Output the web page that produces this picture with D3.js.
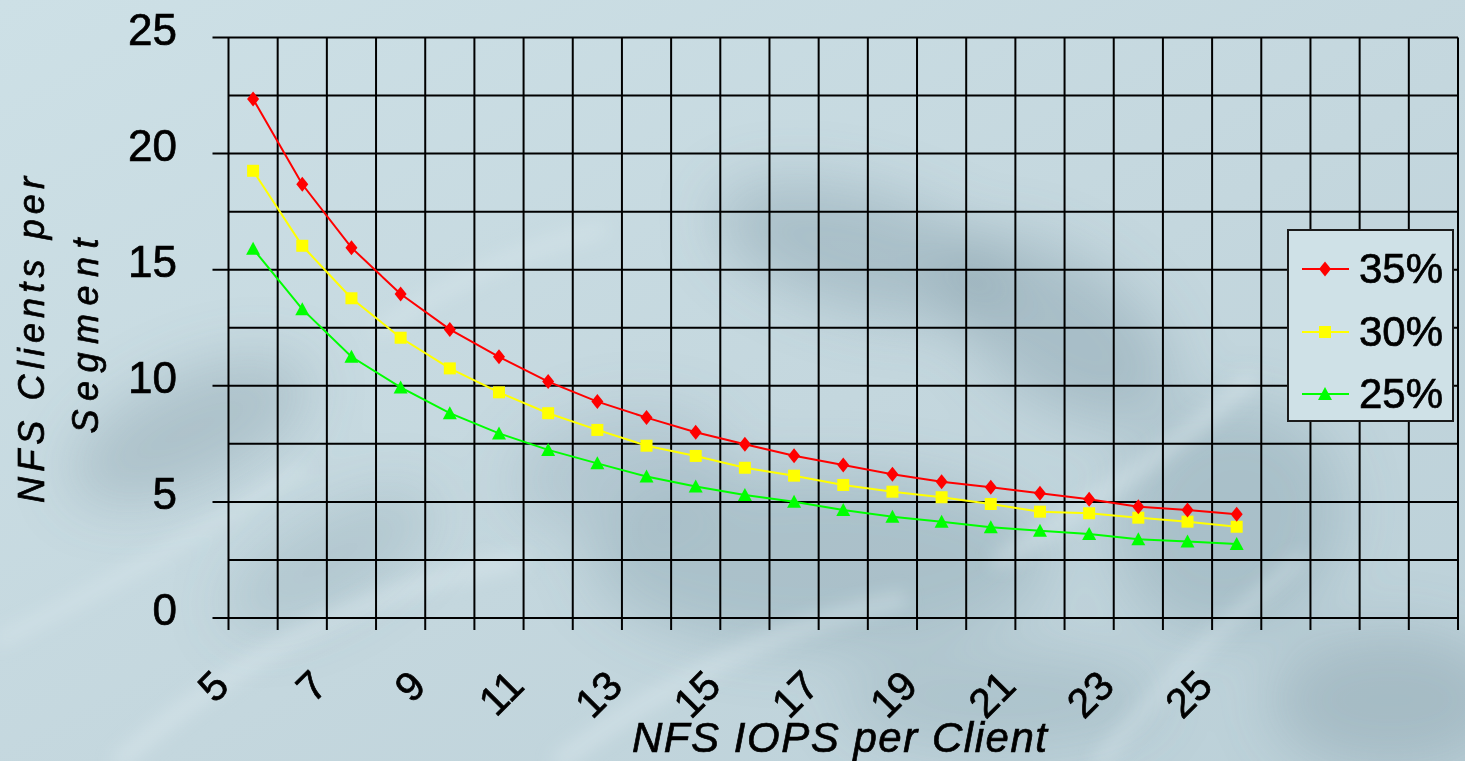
<!DOCTYPE html>
<html>
<head>
<meta charset="utf-8">
<script src="https://cdn.jsdelivr.net/npm/d3@7"></script>
<style>
  html, body { margin: 0; padding: 0; overflow: hidden; background: #c9dce2; }
  svg { display: block; }
</style>
</head>
<body>
<svg id="chart" width="1465" height="761"></svg>
<script>
// NFS IOPS per client (category values along the x axis)
const iops = [5, 6, 7, 8, 9, 10, 11, 12, 13, 14, 15, 16, 17, 18, 19, 20, 21, 22, 23, 24, 25];

// NFS clients per segment at 35%, 30% and 25% segment utilisation
const clients35 = [22.35, 18.68, 15.95, 13.95, 12.43, 11.25, 10.18, 9.32, 8.63, 8.00, 7.48,
                   6.99, 6.59, 6.19, 5.87, 5.63, 5.37, 5.11, 4.79, 4.65, 4.47];
const clients30 = [19.26, 16.03, 13.77, 12.07, 10.75, 9.72, 8.82, 8.10, 7.42, 6.98, 6.47,
                   6.13, 5.73, 5.44, 5.20, 4.91, 4.58, 4.51, 4.32, 4.15, 3.93];
const clients25 = [15.90, 13.30, 11.25, 9.93, 8.82, 7.95, 7.24, 6.66, 6.09, 5.66, 5.30,
                   5.01, 4.65, 4.36, 4.15, 3.91, 3.76, 3.62, 3.39, 3.29, 3.19];

const seriesNames = ["35%", "30%", "25%"];
const xTickLabels = [5, 7, 9, 11, 13, 15, 17, 19, 21, 23, 25];
const yTickLabels = [0, 5, 10, 15, 20, 25];

const FONT = "'Liberation Sans', Arial, Helvetica, sans-serif";
const svg = d3.select("#chart");
const W = 1465, H = 761;

// ---------- textured blue-grey backdrop ----------
const defs = svg.append("defs");
defs.append("filter").attr("id", "softBig").attr("x", "-50%").attr("y", "-50%")
  .attr("width", "200%").attr("height", "200%")
  .append("feGaussianBlur").attr("stdDeviation", 28);
defs.append("filter").attr("id", "softSmall").attr("x", "-50%").attr("y", "-50%")
  .attr("width", "200%").attr("height", "200%")
  .append("feGaussianBlur").attr("stdDeviation", 9);

const bgGrad = defs.append("linearGradient").attr("id", "bgGrad")
  .attr("x1", 0).attr("y1", 0).attr("x2", 1).attr("y2", 1);
bgGrad.append("stop").attr("offset", 0).attr("stop-color", "#cde0e6");
bgGrad.append("stop").attr("offset", 0.55).attr("stop-color", "#c4d7de");
bgGrad.append("stop").attr("offset", 1).attr("stop-color", "#bbd0d8");

const bg = svg.append("g").attr("class", "backdrop");
bg.append("rect").attr("width", W).attr("height", H).attr("fill", "url(#bgGrad)");

const shade = bg.append("g").attr("filter", "url(#softBig)");
const darkBlobs = [
  [190, 430, 130, 55, -25, 0.30],
  [330, 560, 120, 45, -30, 0.22],
  [860, 250, 150, 60, 15, 0.32],
  [1060, 330, 130, 70, 35, 0.32],
  [1230, 520, 110, 120, 40, 0.28],
  [820, 560, 230, 90, 0, 0.28],
  [620, 470, 110, 60, -10, 0.20],
  [1390, 700, 120, 70, 0, 0.30],
  [1000, 700, 160, 50, 0, 0.22]
];
darkBlobs.forEach(([cx, cy, rx, ry, rot, op]) => {
  shade.append("ellipse")
    .attr("cx", cx).attr("cy", cy).attr("rx", rx).attr("ry", ry)
    .attr("transform", `rotate(${rot},${cx},${cy})`)
    .attr("fill", "#6f8b99").attr("opacity", op);
});

const streaks = bg.append("g").attr("filter", "url(#softSmall)")
  .attr("fill", "none").attr("stroke", "#e4f0f4").attr("stroke-linecap", "round");
[
  "M120,761 Q300,600 520,560",
  "M0,640 Q160,560 300,470",
  "M560,761 Q720,640 900,600",
  "M1100,761 Q1200,640 1300,560",
  "M1000,560 Q1150,470 1250,380",
  "M380,330 Q480,260 600,230"
].forEach((d, i) => {
  streaks.append("path").attr("d", d)
    .attr("stroke-width", i % 2 ? 10 : 14).attr("opacity", 0.45);
});

// ---------- scales ----------
const plot = { left: 228.5, right: 1458, top: 37.5, bottom: 618 };
const x = d3.scaleLinear().domain([4.5, 29.5]).range([plot.left, plot.right]);
const y = d3.scaleLinear().domain([0, 25]).range([plot.bottom, plot.top]);

const g = svg.append("g");

// ---------- grid ----------
const grid = g.append("g").attr("stroke", "#000").attr("stroke-width", 2);
d3.range(0, 25.01, 2.5).forEach(v => {
  const major = v % 5 === 0;
  grid.append("line")
    .attr("x1", major ? plot.left - 16 : plot.left).attr("x2", plot.right)
    .attr("y1", y(v)).attr("y2", y(v));
});
d3.range(4.5, 29.51, 1).forEach(v => {
  grid.append("line")
    .attr("x1", x(v)).attr("x2", x(v))
    .attr("y1", plot.top).attr("y2", plot.bottom + 12);
});

// shared text look: solid black with a hairline outline for a heavier stroke
function ink(sel, size) {
  return sel.attr("font-family", FONT).attr("font-size", size)
    .attr("fill", "#000").attr("stroke", "#000").attr("stroke-width", 0.7);
}

// ---------- y axis labels ----------
ink(g.append("g").selectAll("text").data(yTickLabels).join("text"), 44)
  .attr("x", 177).attr("y", d => y(d) + 7)
  .attr("text-anchor", "end")
  .text(d => d);

// ---------- x axis labels (rotated) ----------
ink(g.append("g").selectAll("text").data(xTickLabels).join("text"), 41)
  .attr("transform", d => `translate(${x(d) - 22},688) rotate(-45)`)
  .attr("text-anchor", "end")
  .text(d => d);

// ---------- axis titles ----------
ink(g.append("text"), 42)
  .attr("x", 839.5).attr("y", 752)
  .attr("text-anchor", "middle")
  .attr("font-style", "italic")
  .attr("textLength", 415).attr("lengthAdjust", "spacing")
  .text("NFS IOPS per Client");

const yTitle1 = ink(g.append("text"), 36)
  .attr("font-style", "italic").attr("text-anchor", "middle")
  .attr("transform", "translate(44,340) rotate(-90)")
  .attr("textLength", 326).attr("lengthAdjust", "spacing")
  .text("NFS Clients per");
const yTitle2 = ink(g.append("text"), 36)
  .attr("font-style", "italic").attr("text-anchor", "middle")
  .attr("transform", "translate(98,336) rotate(-90)")
  .attr("textLength", 195).attr("lengthAdjust", "spacing")
  .text("Segment");

// ---------- series ----------
const series = [
  { name: seriesNames[0], values: clients35, color: "#ff0000", marker: "diamond" },
  { name: seriesNames[1], values: clients30, color: "#ffff00", marker: "square" },
  { name: seriesNames[2], values: clients25, color: "#00ff00", marker: "triangle" }
];

const markerPath = {
  diamond: "M0,-7.5L6,0L0,7.5L-6,0Z",
  square: "M-6,-6H6V6H-6Z",
  triangle: "M0,-7L7,6H-7Z"
};

const line = d3.line().x((d, i) => x(iops[i])).y(d => y(d));

// draw back to front so the 35% series sits on top
series.slice().reverse().forEach(s => {
  const sg = g.append("g");
  sg.append("path").attr("d", line(s.values))
    .attr("fill", "none").attr("stroke", s.color).attr("stroke-width", 2);
  sg.selectAll("path.mk").data(s.values).join("path").attr("class", "mk")
    .attr("transform", (d, i) => `translate(${x(iops[i])},${y(d)})`)
    .attr("d", markerPath[s.marker]).attr("fill", s.color);
});

// ---------- legend ----------
const legend = g.append("g");
legend.append("rect")
  .attr("x", 1288).attr("y", 230).attr("width", 165).attr("height", 191)
  .attr("fill", "#cfe1e7").attr("stroke", "#1a1a1a").attr("stroke-width", 2);
const rowY = [269, 332, 394];
series.forEach((s, i) => {
  const ry = rowY[i];
  legend.append("line").attr("x1", 1302).attr("x2", 1349).attr("y1", ry).attr("y2", ry)
    .attr("stroke", s.color).attr("stroke-width", 2);
  legend.append("path").attr("transform", `translate(1325,${ry})`)
    .attr("d", markerPath[s.marker]).attr("fill", s.color);
  ink(legend.append("text"), 42).attr("x", 1359).attr("y", ry + 14)
    .text(s.name);
});
</script>
</body>
</html>
